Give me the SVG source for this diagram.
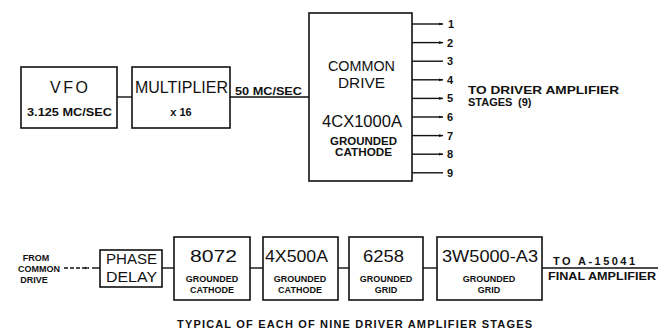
<svg xmlns="http://www.w3.org/2000/svg" width="659" height="330" viewBox="0 0 659 330">
<style>
.box{fill:#fff;stroke:#111;stroke-width:1.6}
.ln{fill:none;stroke:#111;stroke-width:1.4}
.t{font-family:"Liberation Sans",Arial,sans-serif;fill:#111}
.big{font-size:16px}
.sm{font-size:11px;font-weight:bold}
.xs{font-size:9px;font-weight:bold}
.mid{text-anchor:middle}
</style>
<defs>
<marker id="ar" viewBox="0 0 10 10" refX="9" refY="5" markerWidth="5" markerHeight="5" orient="auto" markerUnits="userSpaceOnUse">
<path d="M0,2 L10,5 L0,8 z" fill="#111"/>
</marker>
</defs>
<rect width="659" height="330" fill="#fff"/>

<g id="vfo">
<rect class="box" x="21" y="67" width="96" height="61"/>
<text class="t big" x="50" y="93" textLength="38" lengthAdjust="spacing">VFO</text>
<text class="t sm" x="27" y="116" textLength="85" lengthAdjust="spacingAndGlyphs">3.125 MC/SEC</text>
</g>

<g id="multiplier">
<rect class="box" x="132" y="67" width="98" height="61"/>
<text class="t big" x="135" y="93" textLength="93" lengthAdjust="spacingAndGlyphs">MULTIPLIER</text>
<text class="t sm mid" x="181" y="116" font-size="12">x  16</text>
</g>

<g id="common-drive">
<rect class="box" x="309" y="13" width="103" height="168"/>
<text class="t" x="328" y="71" font-size="14.5" textLength="67" lengthAdjust="spacingAndGlyphs">COMMON</text>
<text class="t" x="338" y="88" font-size="14.5" textLength="47" lengthAdjust="spacingAndGlyphs">DRIVE</text>
<text class="t" x="322" y="127" font-size="17" textLength="80" lengthAdjust="spacingAndGlyphs">4CX1000A</text>
<text class="t" x="330" y="145" font-size="10" font-weight="bold" textLength="67" lengthAdjust="spacingAndGlyphs">GROUNDED</text>
<text class="t" x="335" y="156" font-size="10" font-weight="bold" textLength="57" lengthAdjust="spacingAndGlyphs">CATHODE</text>
</g>

<g id="outputs-label">
<text class="t sm" x="468" y="94" font-size="12" textLength="151" lengthAdjust="spacingAndGlyphs">TO  DRIVER  AMPLIFIER</text>
<text class="t sm" x="468" y="106" font-size="12">STAGES</text>
<text class="t sm" x="518" y="106" font-size="12">(9)</text>
</g>

<g id="phase-delay">
<rect class="box" x="100" y="250" width="62" height="37"/>
<text class="t" x="106" y="264" font-size="15" textLength="51" lengthAdjust="spacingAndGlyphs">PHASE</text>
<text class="t" x="106" y="282" font-size="15" textLength="51" lengthAdjust="spacingAndGlyphs">DELAY</text>
</g>

<g id="stage-8072">
<rect class="box" x="174" y="237" width="76" height="63"/>
<text class="t" x="190" y="262" font-size="17" textLength="47" lengthAdjust="spacingAndGlyphs">8072</text>
<text class="t xs mid" x="212" y="282">GROUNDED</text>
<text class="t xs mid" x="212" y="293">CATHODE</text>
</g>

<g id="stage-4x500a">
<rect class="box" x="263" y="237" width="75" height="63"/>
<text class="t big" x="265" y="262" textLength="63" lengthAdjust="spacingAndGlyphs">4X500A</text>
<text class="t xs mid" x="300" y="282">GROUNDED</text>
<text class="t xs mid" x="300" y="293">CATHODE</text>
</g>

<g id="stage-6258">
<rect class="box" x="349" y="237" width="74" height="63"/>
<text class="t" x="363" y="262" font-size="17" textLength="41" lengthAdjust="spacingAndGlyphs">6258</text>
<text class="t xs mid" x="386" y="282">GROUNDED</text>
<text class="t xs mid" x="386" y="293">GRID</text>
</g>

<g id="stage-3w5000">
<rect class="box" x="437" y="237" width="105" height="63"/>
<text class="t big" x="442" y="262" textLength="96" lengthAdjust="spacingAndGlyphs">3W5000-A3</text>
<text class="t xs mid" x="489" y="282">GROUNDED</text>
<text class="t xs mid" x="489" y="293">GRID</text>
</g>

<g id="from-common">
<text class="t xs mid" x="36" y="261">FROM</text>
<text class="t xs mid" x="39" y="272">COMMON</text>
<text class="t xs mid" x="34" y="283">DRIVE</text>
</g>

<g id="final-label">
<text class="t sm" x="553" y="265" textLength="82" lengthAdjust="spacing">TO  A-15041</text>
<text class="t sm" x="548" y="280" textLength="108" lengthAdjust="spacingAndGlyphs">FINAL AMPLIFIER</text>
</g>

<g id="caption">
<text class="t sm" x="177" y="328" textLength="355" lengthAdjust="spacing">TYPICAL OF EACH OF NINE DRIVER AMPLIFIER STAGES</text>
</g>

<g id="connectors">
<line class="ln" x1="117" y1="97" x2="132" y2="97"/>
<line class="ln" x1="230" y1="97" x2="309" y2="97"/>
<text class="t sm" x="235" y="95" textLength="67" lengthAdjust="spacingAndGlyphs">50 MC/SEC</text>
<line class="ln" x1="412" y1="24" x2="443" y2="24" marker-end="url(#ar)"/>
<line class="ln" x1="412" y1="42.6" x2="443" y2="42.6" marker-end="url(#ar)"/>
<line class="ln" x1="412" y1="61.2" x2="443" y2="61.2"/>
<line class="ln" x1="412" y1="79.8" x2="443" y2="79.8" marker-end="url(#ar)"/>
<line class="ln" x1="412" y1="98.4" x2="443" y2="98.4" marker-end="url(#ar)"/>
<line class="ln" x1="412" y1="117" x2="443" y2="117" marker-end="url(#ar)"/>
<line class="ln" x1="412" y1="135.6" x2="443" y2="135.6" marker-end="url(#ar)"/>
<line class="ln" x1="412" y1="154.2" x2="443" y2="154.2" marker-end="url(#ar)"/>
<line class="ln" x1="412" y1="172.8" x2="443" y2="172.8"/>
<text class="t sm" x="448" y="28">1</text>
<text class="t sm" x="447" y="46.6">2</text>
<text class="t sm" x="447" y="65.2">3</text>
<text class="t sm" x="447" y="83.8">4</text>
<text class="t sm" x="447" y="102.4">5</text>
<text class="t sm" x="447" y="121">6</text>
<text class="t sm" x="447" y="139.6">7</text>
<text class="t sm" x="447" y="158.2">8</text>
<text class="t sm" x="447" y="176.8">9</text>
<line class="ln" x1="64" y1="268" x2="89" y2="268" stroke-dasharray="4,2" marker-end="url(#ar)"/>
<line class="ln" x1="92" y1="268" x2="100" y2="268"/>
<line class="ln" x1="162" y1="268" x2="174" y2="268"/>
<line class="ln" x1="250" y1="268" x2="263" y2="268"/>
<line class="ln" x1="338" y1="268" x2="349" y2="268"/>
<line class="ln" x1="423" y1="268" x2="437" y2="268"/>
<line class="ln" x1="542" y1="268" x2="658" y2="268"/>
</g>
</svg>
